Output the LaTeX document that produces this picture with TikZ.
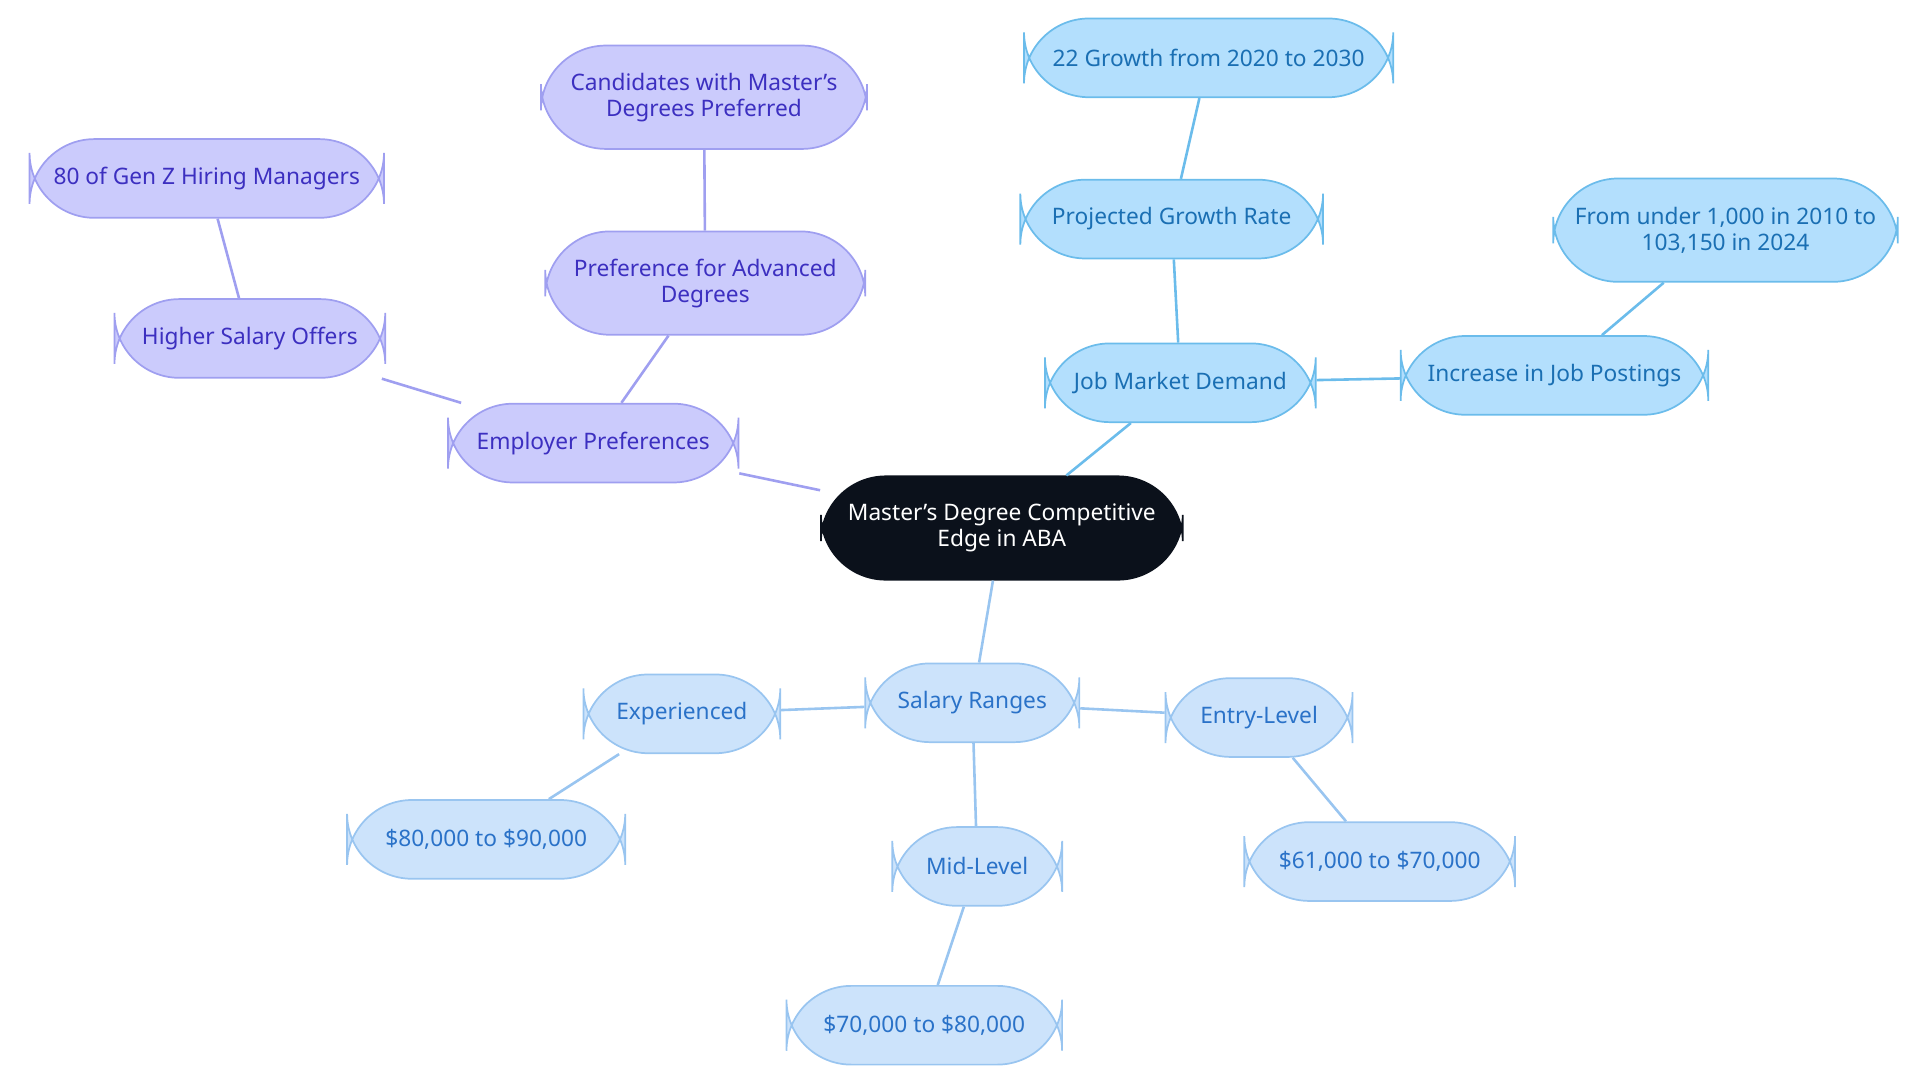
\documentclass[tikz,border=0pt]{standalone}
\usepackage{fontspec}
\setmainfont{Noto Sans}
\definecolor{rootfill}{HTML}{0B111B}
\definecolor{purfill}{HTML}{CBCBFC}
\definecolor{purline}{HTML}{9F9FF0}
\definecolor{purtext}{HTML}{3C2FC0}
\definecolor{bluefill}{HTML}{B3DFFD}
\definecolor{blueline}{HTML}{6BBCEB}
\definecolor{bluetext}{HTML}{1A6FB3}
\definecolor{lbfill}{HTML}{CCE3FB}
\definecolor{lbline}{HTML}{99C5F0}
\definecolor{lbtext}{HTML}{2A72C8}
\tikzset{
  box/.style={rectangle, rounded corners=30pt, draw, line width=0.8pt, align=center,
    font=\fontsize{10.5}{12}\selectfont, inner sep=0pt, minimum height=1.28cm},
  root/.style={box, fill=rootfill, draw=rootfill, text=white, minimum height=1.68cm},
  pur/.style={box, fill=purfill, draw=purline, text=purtext},
  blu/.style={box, fill=bluefill, draw=blueline, text=bluetext},
  lb/.style={box, fill=lbfill, draw=lbline, text=lbtext},
  tall/.style={minimum height=1.68cm},
}
\begin{document}
\begin{tikzpicture}[x=0.02cm, y=-0.02cm]
\useasboundingbox (0,0) rectangle (1560,880);
\node[root, minimum width=5.88cm] (R) at (814,429) {Master's Degree Competitive\\Edge in ABA};

\node[pur, minimum width=4.72cm] (EP) at (482,360) {Employer Preferences};
\node[pur, minimum width=4.4cm] (HS) at (203,275) {Higher Salary Offers};
\node[pur, minimum width=5.76cm] (GZ) at (168,145) {80 of Gen Z Hiring Managers};
\node[pur, tall, minimum width=5.2cm] (PA) at (573,230) {Preference for Advanced\\Degrees};
\node[pur, tall, minimum width=5.3cm] (CM) at (572,79) {Candidates with Master's\\Degrees Preferred};

\node[blu, minimum width=4.4cm] (JM) at (959,311) {Job Market Demand};
\node[blu, minimum width=4.92cm] (PG) at (952,178) {Projected Growth Rate};
\node[blu, minimum width=6cm] (GR) at (982,47) {22 Growth from 2020 to 2030};
\node[blu, minimum width=5cm] (IJ) at (1263,305) {Increase in Job Postings};
\node[blu, tall, minimum width=5.6cm] (FU) at (1402,187) {From under 1,000 in 2010 to\\103,150 in 2024};

\node[lb, minimum width=3.48cm] (SR) at (790,571) {Salary Ranges};
\node[lb, minimum width=3.2cm] (EX) at (554,580) {Experienced};
\node[lb, minimum width=4.52cm] (S89) at (395,682) {\$80,000 to \$90,000};
\node[lb, minimum width=2.76cm] (ML) at (794,704) {Mid-Level};
\node[lb, minimum width=4.48cm] (S78) at (751,833) {\$70,000 to \$80,000};
\node[lb, minimum width=3.04cm] (EL) at (1023,583) {Entry-Level};
\node[lb, minimum width=4.4cm] (S67) at (1121,700) {\$61,000 to \$70,000};

\draw[purline, line width=1.2pt] (R) -- (EP);
\draw[purline, line width=1.2pt] (EP) -- (HS);
\draw[purline, line width=1.2pt] (HS) -- (GZ);
\draw[purline, line width=1.2pt] (EP) -- (PA);
\draw[purline, line width=1.2pt] (PA) -- (CM);
\draw[blueline, line width=1.2pt] (R) -- (JM);
\draw[blueline, line width=1.2pt] (JM) -- (PG);
\draw[blueline, line width=1.2pt] (PG) -- (GR);
\draw[blueline, line width=1.2pt] (JM) -- (IJ);
\draw[blueline, line width=1.2pt] (IJ) -- (FU);
\draw[lbline, line width=1.2pt] (R) -- (SR);
\draw[lbline, line width=1.2pt] (SR) -- (EX);
\draw[lbline, line width=1.2pt] (EX) -- (S89);
\draw[lbline, line width=1.2pt] (SR) -- (ML);
\draw[lbline, line width=1.2pt] (ML) -- (S78);
\draw[lbline, line width=1.2pt] (SR) -- (EL);
\draw[lbline, line width=1.2pt] (EL) -- (S67);
\end{tikzpicture}
\end{document}
